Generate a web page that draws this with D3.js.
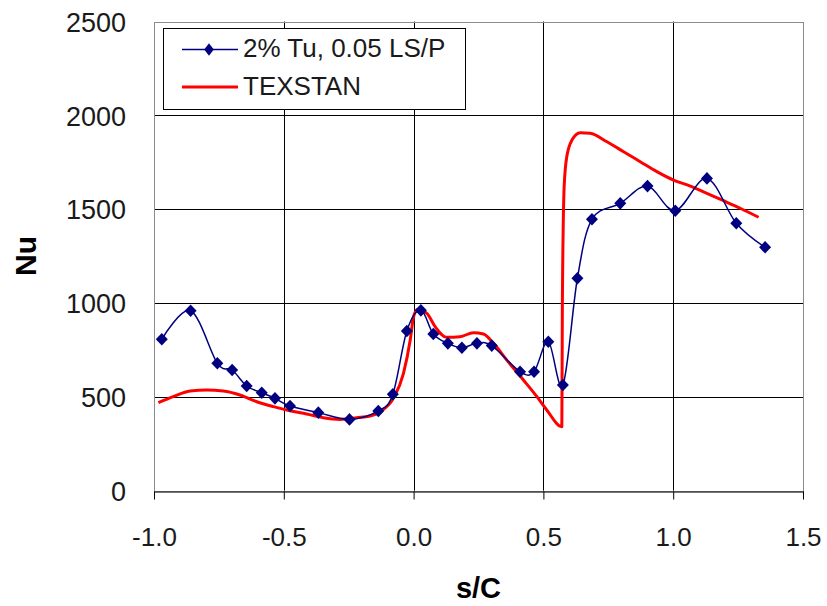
<!DOCTYPE html>
<html>
<head>
<meta charset="utf-8">
<script src="https://cdn.jsdelivr.net/npm/d3@7"></script>
<style>
  html, body { margin: 0; padding: 0; background: #fff; }
  svg { display: block; font-family: "Liberation Sans", Arial, sans-serif; }
</style>
</head>
<body>
<svg id="chart" width="827" height="606"></svg>
<script>
// Measured Nusselt number along the surface (2% Tu, 0.05 LS/P)
const measuredS  = [-0.970, -0.859, -0.756, -0.699, -0.643, -0.585, -0.534, -0.476, -0.367, -0.247,
                    -0.136, -0.080, -0.026, 0.028, 0.076, 0.132, 0.186, 0.244, 0.301, 0.410,
                    0.464, 0.519, 0.575, 0.631, 0.687, 0.796, 0.901, 1.008, 1.130, 1.243, 1.354];
const measuredNu = [807, 959, 679, 643, 558, 522, 492, 451, 416, 380,
                    425, 514, 851, 961, 835, 785, 762, 785, 773, 634,
                    634, 794, 563, 1132, 1446, 1531, 1623, 1492, 1664, 1425, 1297];

// TEXSTAN prediction
const texstanS  = [-0.983, -0.926, -0.861, -0.797, -0.733, -0.669, -0.604, -0.540, -0.476, -0.412,
                   -0.348, -0.283, -0.219, -0.168, -0.129, -0.078, -0.039, -0.013, 0.000, 0.015,
                   0.051, 0.083, 0.128, 0.179, 0.230, 0.269, 0.308, 0.359, 0.423, 0.475,
                   0.513, 0.571, 0.573, 0.580, 0.590, 0.610, 0.642, 0.680, 0.745, 0.809,
                   0.873, 0.937, 1.001, 1.066, 1.130, 1.194, 1.258, 1.329];
const texstanNu = [469, 501, 531, 536, 531, 510, 474, 448, 426, 409,
                   389, 380, 389, 398, 421, 492, 625, 803, 927, 965,
                   945, 874, 817, 820, 842, 835, 785, 696, 590, 501,
                   430, 341, 980, 1620, 1779, 1868, 1907, 1904, 1859, 1806,
                   1753, 1700, 1655, 1623, 1584, 1545, 1505, 1457];

const xTicks = [-1.0, -0.5, 0.0, 0.5, 1.0, 1.5];
const yTicks = [0, 500, 1000, 1500, 2000, 2500];
const seriesNames = ["2% Tu, 0.05 LS/P", "TEXSTAN"];

const svg = d3.select("#chart");
const plotLeft = 154, plotRight = 803, plotTop = 21.5, plotBottom = 490.7;

const x = d3.scaleLinear().domain([-1.0, 1.5]).range([plotLeft, plotRight]);
const y = d3.scaleLinear().domain([0, 2500]).range([plotBottom, plotTop]);

svg.append("rect").attr("width", 827).attr("height", 606).attr("fill", "#fff");

// Grid lines
const grid = svg.append("g");
grid.selectAll("line.h").data(yTicks.filter(d => d > 0 && d < 2500)).join("line")
  .attr("x1", plotLeft).attr("x2", plotRight)
  .attr("y1", d => Math.round(y(d)) + 0.5).attr("y2", d => Math.round(y(d)) + 0.5)
  .attr("stroke", "#000").attr("stroke-width", 1);
grid.selectAll("line.v").data(xTicks.filter(d => d > -1 && d < 1.5)).join("line")
  .attr("y1", plotTop).attr("y2", plotBottom)
  .attr("x1", d => Math.round(x(d)) + 0.5).attr("x2", d => Math.round(x(d)) + 0.5)
  .attr("stroke", "#000").attr("stroke-width", 1);

// Plot area frame
svg.append("rect")
  .attr("x", plotLeft + 0.5).attr("y", Math.round(plotTop) + 0.5)
  .attr("width", plotRight - plotLeft).attr("height", plotBottom - plotTop)
  .attr("fill", "none").attr("stroke", "#8c8c8c").attr("stroke-width", 1);

// X axis
const xAxis = svg.append("g")
  .attr("transform", `translate(0,${Math.round(plotBottom) + 0.5})`)
  .call(d3.axisBottom(x).tickValues(xTicks).tickFormat(d3.format(".1f")).tickSize(8).tickSizeOuter(0));
xAxis.select(".domain").attr("stroke", "#000").attr("stroke-width", 1.2);
xAxis.selectAll(".tick line").attr("stroke", "#000");
xAxis.selectAll(".tick text").attr("y", 54).attr("dy", null)
  .attr("font-size", 26).attr("fill", "#1a1a1a")
  .attr("font-family", "'Liberation Sans', Arial, sans-serif")
  .text(d => d3.format(".1f")(d).replace("\u2212", "-"));

// Y axis labels
const yAxis = svg.append("g")
  .attr("transform", `translate(${plotLeft},0)`)
  .call(d3.axisLeft(y).tickValues(yTicks).tickFormat(d3.format("d")).tickSize(0).tickPadding(28));
yAxis.select(".domain").remove();
yAxis.selectAll(".tick text").attr("dy", "0.36em")
  .attr("font-size", 27).attr("fill", "#1a1a1a")
  .attr("font-family", "'Liberation Sans', Arial, sans-serif");

// Axis titles
svg.append("text")
  .attr("transform", `translate(36,256) rotate(-90)`)
  .attr("text-anchor", "middle").attr("font-weight", "bold").attr("font-size", 30)
  .text("Nu");
svg.append("text")
  .attr("x", (plotLeft + plotRight) / 2).attr("y", 598)
  .attr("text-anchor", "middle").attr("font-weight", "bold").attr("font-size", 29)
  .text("s/C");

// TEXSTAN curve
const texstan = texstanS.map((s, i) => [s, texstanNu[i]]);
svg.append("path").datum(texstan)
  .attr("fill", "none").attr("stroke", "#ff0000").attr("stroke-width", 3)
  .attr("stroke-linejoin", "round")
  .attr("d", d3.line().x(d => x(d[0])).y(d => y(d[1])).curve(d3.curveMonotoneX));

// Measured data, smoothed line with diamond markers
const measured = measuredS.map((s, i) => [s, measuredNu[i]]);
svg.append("path").datum(measured)
  .attr("fill", "none").attr("stroke", "#000080").attr("stroke-width", 1.5)
  .attr("d", d3.line().x(d => x(d[0])).y(d => y(d[1])).curve(d3.curveCatmullRom.alpha(0)));

const diamond = (w, h) => `M0,${-h}L${w},0L0,${h}L${-w},0Z`;
svg.append("g").selectAll("path").data(measured).join("path")
  .attr("transform", d => `translate(${x(d[0])},${y(d[1])})`)
  .attr("d", diamond(6, 6.3))
  .attr("fill", "#000080");

// Legend
const legend = svg.append("g");
legend.append("rect")
  .attr("x", 163.5).attr("y", 28.5).attr("width", 302).attr("height", 81)
  .attr("fill", "#fff").attr("stroke", "#000").attr("stroke-width", 1);
legend.append("line").attr("x1", 182).attr("x2", 238).attr("y1", 49.5).attr("y2", 49.5)
  .attr("stroke", "#000080").attr("stroke-width", 1.5);
legend.append("path").attr("transform", "translate(209,49.5)").attr("d", diamond(4.8, 6.3))
  .attr("fill", "#000080");
legend.append("line").attr("x1", 182).attr("x2", 238).attr("y1", 87).attr("y2", 87)
  .attr("stroke", "#ff0000").attr("stroke-width", 3);
legend.selectAll("text").data(seriesNames).join("text")
  .attr("x", 243).attr("y", (d, i) => 57 + i * 38)
  .attr("font-size", 26).attr("fill", "#1a1a1a")
  .text(d => d);
</script>
</body>
</html>
